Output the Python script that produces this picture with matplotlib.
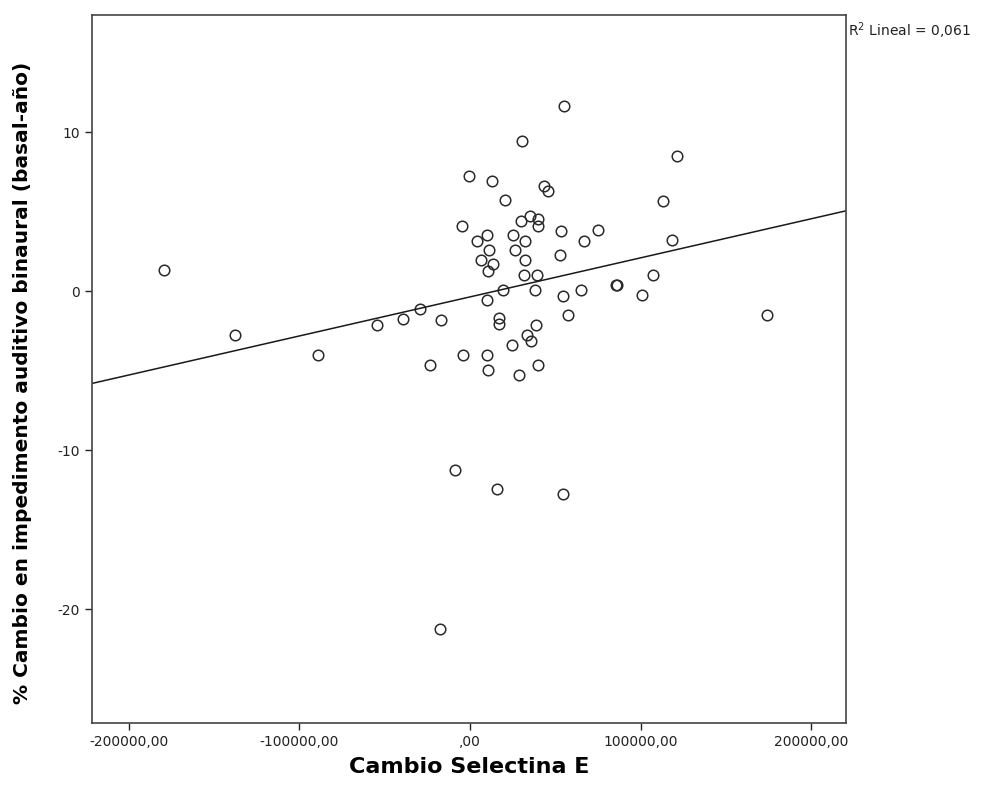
import matplotlib
matplotlib.use('Agg')
import matplotlib.pyplot as plt
from matplotlib.ticker import FuncFormatter
import numpy as np

# Cambio Selectina E (x) vs % cambio en impedimento auditivo binaural (y)
selectina = [
    55300, 30500, -400, 13100, 43400, 45900, 20500, -4700, 29900, 34800,
    40000, 40000, 53300, 75000, 4300, 10100, 25000, 32400, 11100, 26400,
    6300, 13300, 10400, 32000, 52800, 66800, 31700, 39100, 37900, 19500,
    10100, 54700, 64700, 57600, -29300, -39100, -17200, 17200, 17200, 38500,
    -23400, -3900, 10100, 10600, 24400, 33200, 35800, 28900, 39500, -8800,
    15600, 54300, -17600, 85400, 86000, 100600, 106900, 121100, 112900, 118200,
    173900, -179400, -137700, -88900, -54700,
]
impedimento = [
    11.63, 9.43, 7.25, 6.94, 6.62, 6.29, 5.70, 4.11, 4.42, 4.74,
    4.51, 4.11, 3.79, 3.84, 3.16, 3.52, 3.52, 3.16, 2.58, 2.58,
    1.93, 1.68, 1.28, 1.93, 2.24, 3.16, 0.99, 0.99, 0.06, 0.06,
    -0.57, -0.29, 0.06, -1.51, -1.15, -1.76, -1.82, -1.72, -2.08, -2.14,
    -4.65, -4.03, -4.03, -4.97, -3.40, -2.77, -3.12, -5.28, -4.65, -11.26,
    -12.47, -12.79, -21.26, 0.38, 0.36, -0.25, 1.00, 8.49, 5.68, 3.19,
    -1.51, 1.32, -2.77, -4.03, -2.14,
]
x_ticks = [-200000, -100000, 0, 100000, 200000]
y_ticks = [10, 0, -10, -20]
r2_label = 'R$^2$ Lineal = 0,061'


def fmt_x(v, pos):
    if v == 0:
        return ',00'
    return '%d,00' % v


fig = plt.figure(figsize=(10.03, 7.96), dpi=100)
ax = fig.add_axes([0.0917, 0.0917, 0.752, 0.8894])

x = np.array(selectina, dtype=float)
y = np.array(impedimento, dtype=float)
ax.plot(x, y, linestyle='none', marker='o', markersize=7.6,
        markerfacecolor='none', markeredgecolor='#2a2a2a', markeredgewidth=1.1)

xlim = (-221600, 220400)
slope, intercept = np.polyfit(x, y, 1)
lx = np.array(xlim)
ax.plot(lx, slope * lx + intercept, color='#1a1a1a', linewidth=1.1)

ax.set_xlim(*xlim)
ax.set_ylim(-27.17, 17.36)
ax.set_xticks(x_ticks)
ax.set_yticks(y_ticks)
ax.xaxis.set_major_formatter(FuncFormatter(fmt_x))
ax.yaxis.set_major_formatter(FuncFormatter(lambda v, p: '%d' % v))
ax.tick_params(direction='out', length=5, width=1, colors='#222222',
               labelsize=10, labelcolor='#222222')
for sp in ax.spines.values():
    sp.set_linewidth(1.2)
    sp.set_color('#444444')

ax.set_xlabel('Cambio Selectina E', fontsize=16, fontweight='bold', labelpad=6)
ax.set_ylabel('% Cambio en impedimento auditivo binaural (basal-año)',
              fontsize=14.5, fontweight='bold')
ax.yaxis.set_label_coords(-0.080, 0.48)

fig.text(0.8455, 0.962, r2_label, fontsize=10, ha='left', va='center', color='#222222')

fig.savefig('out.png', dpi=100)
plt.close(fig)
